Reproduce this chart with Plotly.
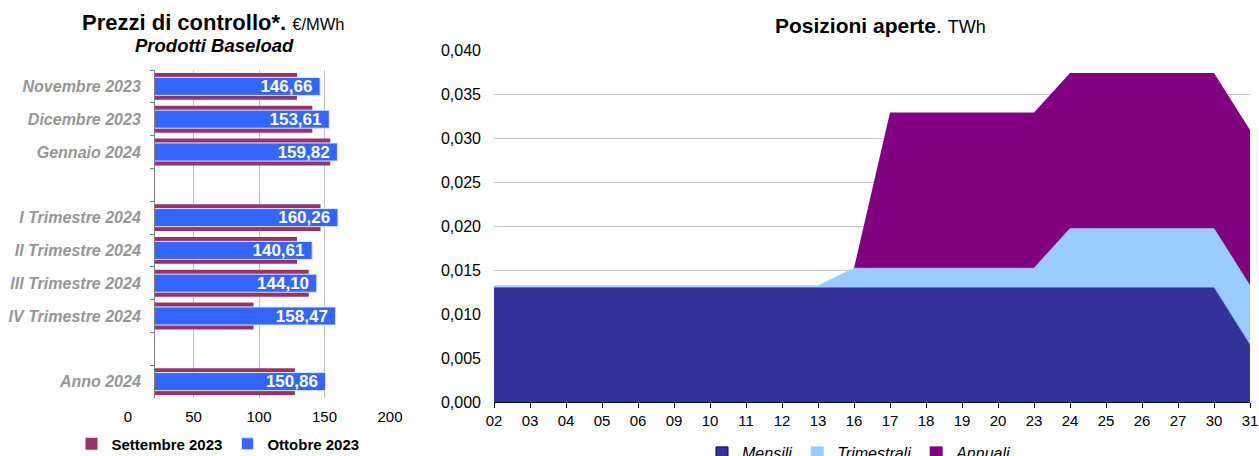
import plotly.graph_objects as go

W, H = 1259, 456
FONT = "Liberation Sans, Arial, sans-serif"

# ---------------- data: left chart (Prezzi di controllo) ----------------
categories = ["Novembre 2023", "Dicembre 2023", "Gennaio 2024", " ",
              "I Trimestre 2024", "II Trimestre 2024", "III Trimestre 2024",
              "IV Trimestre 2024", "  ", "Anno 2024"]
settembre_2023 = [129.0, 140.7, 154.4, None, 147.0, 129.0, 138.0, 95.8, None, 127.4]
ottobre_2023 = [146.66, 153.61, 159.82, None, 160.26, 140.61, 144.10, 158.47, None, 150.86]
price_ticks = [0, 50, 100, 150, 200]
BAR_BASE = 20  # category axis crosses the value axis at 20

# ---------------- data: right chart (Posizioni aperte) ----------------
days = ["02", "03", "04", "05", "06", "09", "10", "11", "12", "13", "16",
        "17", "18", "19", "20", "23", "24", "25", "26", "27", "30", "31"]
mensili = [0.0130] * 21 + [0.0065]
trimestrali = [0.0002] * 10 + [0.0022] * 6 + [0.0067] * 6
annuali = [0.0] * 11 + [0.0177] * 11


def px(x):
    return x / W


def py(y):
    return 1 - y / H


fig = go.Figure()

# ---- left bars
fig.add_trace(go.Bar(
    y=categories,
    x=[None if v is None else v - BAR_BASE for v in settembre_2023],
    base=BAR_BASE, orientation="h", width=0.82,
    marker=dict(color="#993366", line=dict(width=0)),
    name="Settembre 2023", xaxis="x", yaxis="y", legend="legend",
    hoverinfo="skip",
))
fig.add_trace(go.Bar(
    y=categories,
    x=[None if v is None else v - BAR_BASE for v in ottobre_2023],
    base=BAR_BASE, orientation="h", width=0.55,
    marker=dict(color="#3366FF", line=dict(color="#dfe6ff", width=1)),
    text=["" if v is None else f"{v:.2f}".replace(".", ",") + "\u00a0" for v in ottobre_2023],
    textposition="inside", insidetextanchor="end", constraintext="none",
    textfont=dict(color="white", size=17, family=FONT, weight="bold"),
    cliponaxis=False,
    name="Ottobre 2023", xaxis="x", yaxis="y", legend="legend",
    hoverinfo="skip",
))

# ---- right stacked areas
area_series = [("Mensili", mensili, "#333399", 0.5),
               ("Trimestrali", trimestrali, "#99CCFF", 0.8),
               ("Annuali", annuali, "#800080", 0)]
for name, vals, col, lw in area_series:
    fig.add_trace(go.Scatter(
        x=days, y=vals, stackgroup="one", mode="lines",
        line=dict(color=col, width=lw), fillcolor=col,
        name=name, showlegend=False, xaxis="x2", yaxis="y2",
        hoverinfo="skip",
    ))
# legend entries (square markers)
for name, vals, col, lw in area_series:
    fig.add_trace(go.Bar(
        x=[None], y=[None], name=name,
        marker=dict(color=col, line=dict(color="#000066" if name == "Mensili" else col, width=1)),
        xaxis="x2", yaxis="y2", legend="legend2", hoverinfo="skip",
    ))

fig.update_layout(
    width=W, height=H,
    margin=dict(l=0, r=0, t=0, b=0, pad=0, autoexpand=False),
    paper_bgcolor="white", plot_bgcolor="white",
    font=dict(family=FONT, color="black"),
    separators=",.",
    barmode="overlay",
    xaxis=dict(
        domain=[px(128), px(390)], range=[0, 200], tickvals=price_ticks,
        showgrid=True, gridcolor="#c0c0c0", gridwidth=1, zeroline=False,
        showline=False, ticks="", tickfont=dict(size=15, color="black"),
        ticklabelstandoff=8, anchor="y", fixedrange=True,
    ),
    yaxis=dict(
        domain=[py(398), py(70)], type="category",
        categoryorder="array", categoryarray=categories,
        range=[len(categories) - 0.5, -0.5],
        anchor="free", position=px(154),
        showline=True, linecolor="#808080", linewidth=1,
        ticks="outside", tickson="boundaries", ticklen=4, tickcolor="#808080",
        tickfont=dict(size=16, color="#969696", weight="bold", style="italic"),
        ticklabelstandoff=10, showgrid=False, zeroline=False, fixedrange=True,
    ),
    xaxis2=dict(
        domain=[px(494), px(1250)], type="category",
        categoryorder="array", categoryarray=days, range=[0, len(days) - 1],
        ticks="outside", ticklen=5, tickcolor="black",
        showline=True, linecolor="black", linewidth=1,
        tickfont=dict(size=15, color="black"), showgrid=False,
        anchor="y2", fixedrange=True,
    ),
    yaxis2=dict(
        domain=[py(402), py(50)], range=[0, 0.04], dtick=0.005, tick0=0,
        tickformat=".3f", showgrid=True, gridcolor="#c8c8c8", gridwidth=1,
        zeroline=False, showline=False, ticks="",
        tickfont=dict(size=16, color="black"), ticklabelstandoff=12,
        anchor="x2", fixedrange=True,
    ),
    legend=dict(
        orientation="h", x=px(218), xanchor="center", y=py(444), yanchor="middle",
        font=dict(size=15, family=FONT, weight="bold", color="black"),
        bgcolor="rgba(0,0,0,0)", itemclick=False, traceorder="normal",
    ),
    legend2=dict(
        orientation="h", x=px(859), xanchor="center", y=py(453), yanchor="middle",
        font=dict(size=16, family=FONT, style="italic", color="black"),
        bgcolor="rgba(0,0,0,0)", itemclick=False, traceorder="normal",
    ),
    showlegend=True,
    annotations=[
        dict(text="<b>Prezzi di controllo*.</b> <span style='font-size:16.5px'>€/MWh</span>",
             x=px(213), y=py(22), xref="paper", yref="paper",
             xanchor="center", yanchor="middle", showarrow=False,
             font=dict(size=22, family=FONT, color="black")),
        dict(text="<b><i>Prodotti Baseload</i></b>",
             x=px(214), y=py(45), xref="paper", yref="paper",
             xanchor="center", yanchor="middle", showarrow=False,
             font=dict(size=18.5, family=FONT, color="black")),
        dict(text="<b>Posizioni aperte</b>. <span style='font-size:18px'>TWh</span>",
             x=px(880), y=py(25), xref="paper", yref="paper",
             xanchor="center", yanchor="middle", showarrow=False,
             font=dict(size=21, family=FONT, color="black")),
    ],
)

fig.write_html("out.html", config={"displayModeBar": False})
